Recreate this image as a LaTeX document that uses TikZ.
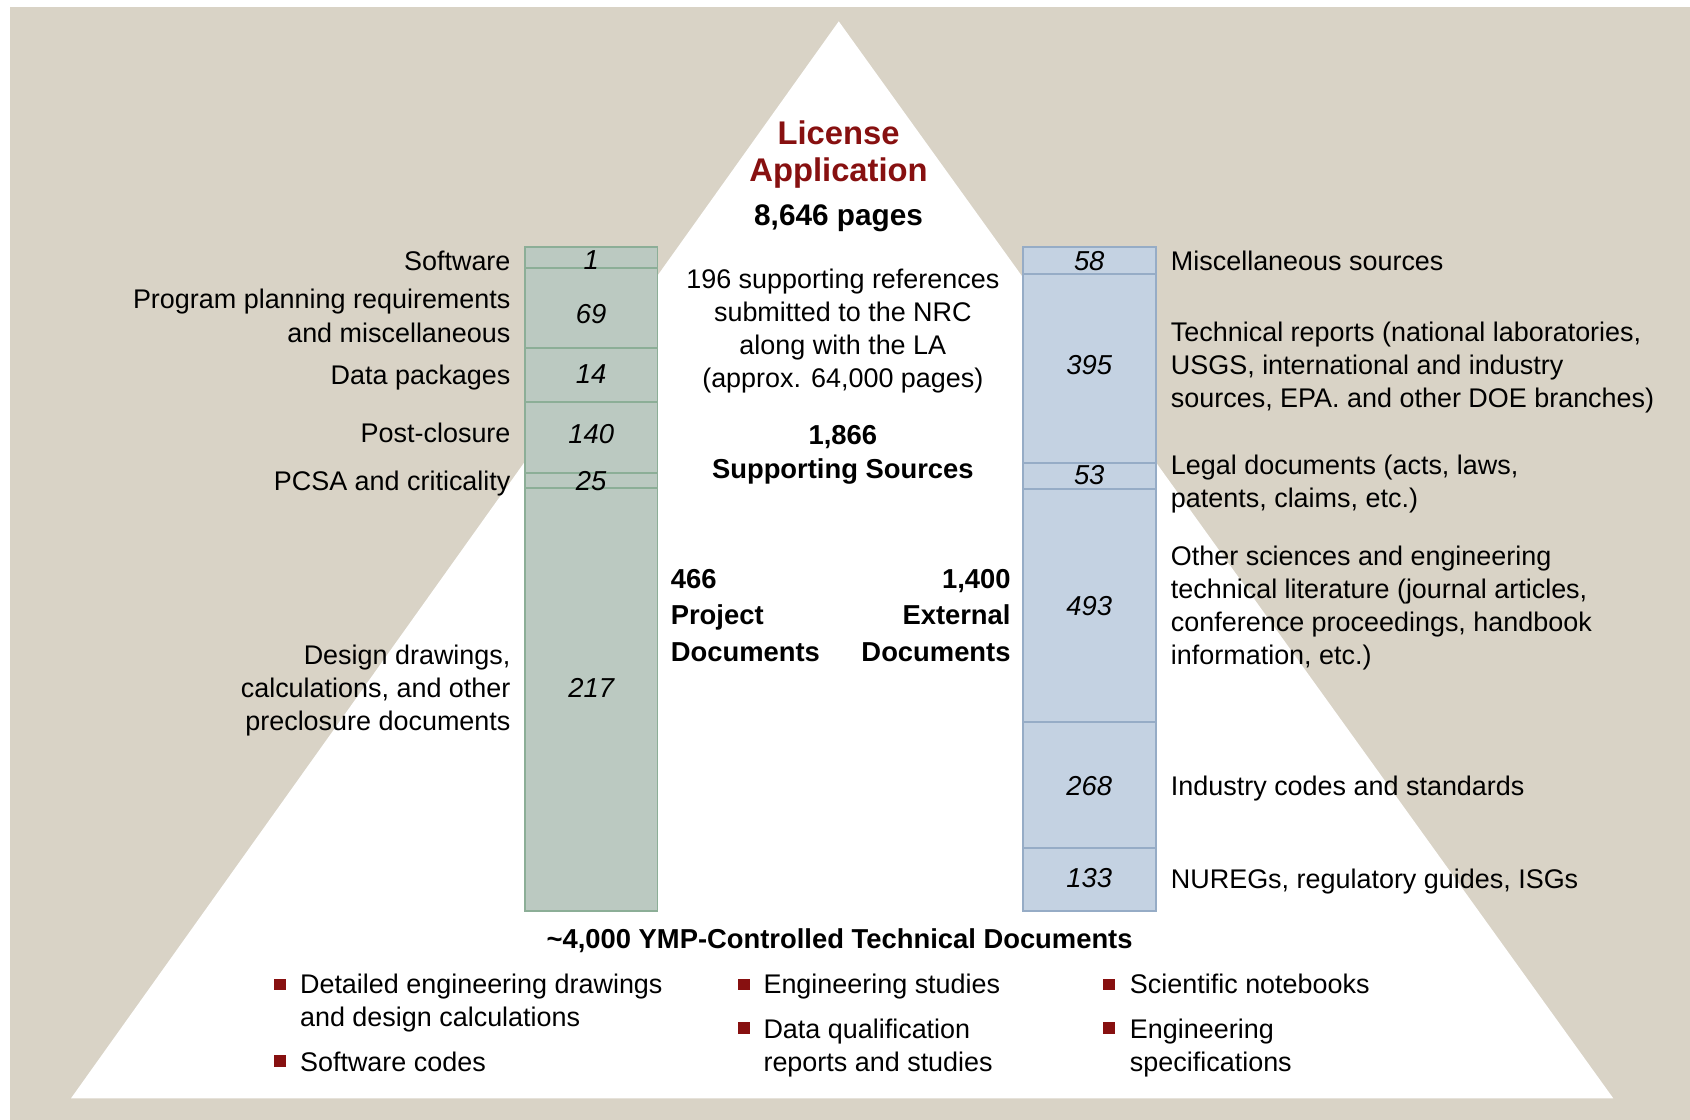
\documentclass[tikz,border=0pt]{standalone}
\usepackage{fontspec}
\setmainfont{Liberation Sans}

\definecolor{bgbeige}{RGB}{217,211,198}
\definecolor{gfill}{RGB}{187,201,193}
\definecolor{gline}{RGB}{140,174,151}
\definecolor{bfill}{RGB}{196,210,226}
\definecolor{bline}{RGB}{150,172,198}
\definecolor{lared}{RGB}{135,16,16}

\tikzset{
  gbox/.style={draw=gline,fill=gfill,line width=0.9pt,minimum width=61.5pt,inner sep=0pt},
  bbox/.style={draw=bline,fill=bfill,line width=0.9pt,minimum width=61.5pt,inner sep=0pt},
  num/.style={inner sep=0pt,font=\itshape\fontsize{12.7}{15}\selectfont},
  txt/.style={inner sep=0pt,font=\fontsize{12.5}{15.4}\selectfont},
  hd/.style={inner sep=0pt,font=\bfseries\fontsize{12.7}{17}\selectfont},
  sq/.style={fill=lared,minimum size=5.4pt,inner sep=0pt}
}

\begin{document}
\begin{tikzpicture}[x=0.5pt,y=-0.5pt]
\useasboundingbox (0,0) rectangle (1568,1039);
\fill[white] (0,0) rectangle (1568,1039);
\fill[bgbeige] (9.3,6.8) rectangle (1568,1039);
\fill[white] (778.2,19.8) -- (1496.8,1019) -- (65.9,1019) -- cycle;

% project documents column
\foreach \t/\b/\n in {229.5/248.3/g1, 248.3/323.2/g2, 323.2/372.7/g3, 372.7/438.6/g4, 438.6/453.1/g5, 453.1/845/g6}
  \node[gbox,minimum height={(\b-\t)*0.5pt}] (\n) at (548.5,{(\t+\b)/2}) {};
\foreach \y/\v in {241/1, 291/69, 347/14, 403/140, 446/25, 638/217}
  \node[num] (n\v) at (548.5,\y) {\v};

% external documents column
\foreach \t/\b/\n in {229.5/253.9/e1, 253.9/429.9/e2, 429.9/453.7/e3, 453.7/670/e4, 670/786.5/e5, 786.5/845/e6}
  \node[bbox,minimum height={(\b-\t)*0.5pt}] (\n) at (1010.6,{(\t+\b)/2}) {};
\foreach \y/\v in {242/58, 339/395, 441/53, 562/493, 729/268, 815/133}
  \node[num] (m\v) at (1010.6,\y) {\v};

% left labels
\foreach \y/\n/\t in {251/lsw/Software, 357/ldp/Data packages, 411/lpc/Post-closure, 455/lpcsa/PCSA and criticality}
  \node[txt,anchor=base east] (\n) at (474,\y) {\t};
\node[txt,anchor=north east,align=right] (lpp) at (474,268) {Program planning requirements\\and miscellaneous};
\node[txt,anchor=north east,align=right] (ldd) at (474,598) {Design drawings,\\calculations, and other\\preclosure documents};

% right labels
\foreach \y/\n/\t in {251/rms/Miscellaneous sources, 738/ric/Industry codes and standards, 824/rnu/{NUREGs, regulatory guides, ISGs}}
  \node[txt,anchor=base west] (\n) at (1086,\y) {\t};
\node[txt,anchor=north west,align=left] (rtr) at (1086,298) {Technical reports (national laboratories,\\USGS, international and industry\\sources, EPA. and other DOE branches)};
\node[txt,anchor=north west,align=left] (rlg) at (1086,422) {Legal documents (acts, laws,\\patents, claims, etc.)};
\node[txt,anchor=north west,align=left] (ros) at (1086,506) {Other sciences and engineering\\technical literature (journal articles,\\conference proceedings, handbook\\information, etc.)};

% center texts
\node[inner sep=0pt,anchor=north,align=center,text=lared,font=\bfseries\fontsize{15.2}{17}\selectfont] (la) at (778,111.7) {License\\Application};
\node[inner sep=0pt,anchor=base,font=\bfseries\fontsize{13.8}{16}\selectfont] (pages) at (778,209) {8,646 pages};
\node[txt,anchor=north,align=center] (refs) at (782,249) {196 supporting references\\submitted to the NRC\\along with the LA\\(approx. 64,000 pages)};
\node[hd,anchor=north,align=center,font=\bfseries\fontsize{12.7}{15.5}\selectfont] (sup) at (782,394.5) {1,866\\Supporting Sources};
\node[hd,anchor=north west,align=left] (proj) at (622,527.5) {466\\Project\\Documents};
\node[hd,anchor=north east,align=right] (ext) at (938,527.5) {1,400\\External\\Documents};
\node[hd,anchor=base] (ymp) at (779,880) {\textasciitilde4,000 YMP-Controlled Technical Documents};

% bullet list
\node[txt,anchor=north west,align=left] (i1) at (278,903) {Detailed engineering drawings\\and design calculations};
\node[txt,anchor=base west] (i2) at (278,994) {Software codes};
\node[txt,anchor=base west] (i3) at (708,922) {Engineering studies};
\node[txt,anchor=north west,align=left] (i4) at (708,945) {Data qualification\\reports and studies};
\node[txt,anchor=base west] (i5) at (1048,922) {Scientific notebooks};
\node[txt,anchor=north west,align=left] (i6) at (1048,945) {Engineering\\specifications};
\foreach \x/\y/\n in {259.5/913.5/s1, 259.5/984.5/s2, 690/913.5/s3, 690/953.5/s4, 1029/913.5/s5, 1029/953.5/s6}
  \node[sq] (\n) at (\x,\y) {};
\end{tikzpicture}
\end{document}
